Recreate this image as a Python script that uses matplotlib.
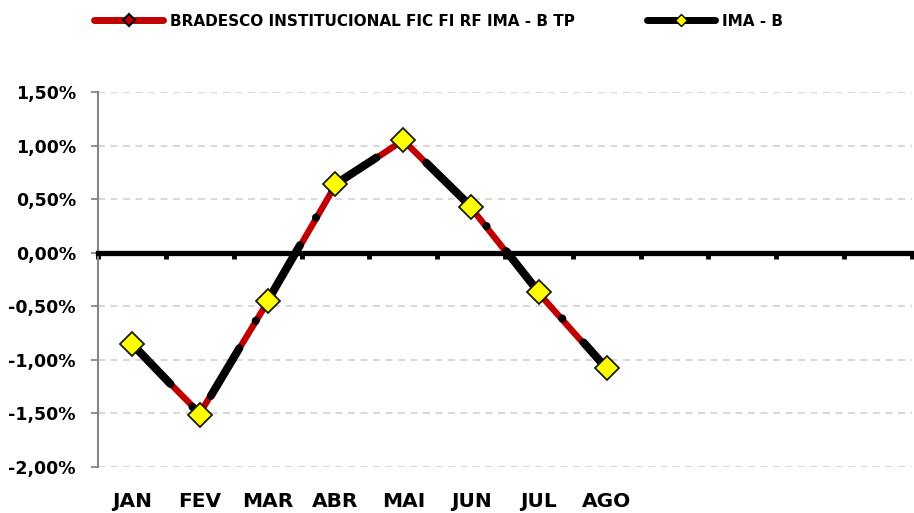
import numpy as np
import matplotlib
matplotlib.use("Agg")
import matplotlib.pyplot as plt
from matplotlib.lines import Line2D
from matplotlib.ticker import FuncFormatter

plt.rcParams['font.family'] = ['DejaVu Sans']
plt.rcParams['font.weight'] = 'bold'
plt.rcParams['lines.scale_dashes'] = False

months = ["JAN", "FEV", "MAR", "ABR", "MAI", "JUN", "JUL", "AGO", "", "", "", ""]
fund_name = "BRADESCO INSTITUCIONAL FIC FI RF IMA - B TP"
bench_name = "IMA - B"
# monthly returns in %
fund = [-0.86, -1.50, -0.46, 0.63, 1.05, 0.42, -0.38, -1.09]
imab = [-0.85, -1.51, -0.45, 0.64, 1.05, 0.43, -0.37, -1.08]
yticks = [-2.0, -1.5, -1.0, -0.5, 0.0, 0.5, 1.0, 1.5]

fig = plt.figure(figsize=(9.14, 5.13), dpi=100)
ax = fig.add_axes([98 / 914, 1 - 467 / 513, 814 / 914, 375 / 513])

x = np.arange(len(fund))
ax.plot(x, fund, color='#c00000', lw=4.6, solid_capstyle='round', zorder=3)
ax.plot(x, imab, color='black', lw=5.8, linestyle=(0, (40, 23, 0.1, 23)),
        dash_capstyle='round', zorder=4)
ax.plot(x, imab, linestyle='none', marker='D', ms=12, mfc='#ffff00',
        mec='#1a1a1a', mew=1.3, zorder=5)

ax.set_xlim(-0.5, len(months) - 0.5)
ax.set_ylim(yticks[0], yticks[-1])
ax.set_yticks(yticks)
ax.yaxis.set_major_formatter(FuncFormatter(lambda v, p: f"{v:.2f}%".replace('.', ',')))
ax.tick_params(axis='y', colors='#868686', length=5, width=1.3, labelsize=12.5,
               labelcolor='black', pad=11)
ax.grid(axis='y', color='#d9d9d9', linestyle=(0, (5, 4)), lw=1.5)
ax.set_axisbelow(True)

for s in ['top', 'right']:
    ax.spines[s].set_visible(False)
ax.spines['left'].set_color('#868686')
ax.spines['left'].set_linewidth(1.5)
ax.spines['bottom'].set_position(('data', 0))
ax.spines['bottom'].set_linewidth(3.8)
ax.spines['bottom'].set_zorder(2.5)
ax.set_xticks(np.arange(len(months) + 1) - 0.5)
ax.set_xticklabels([])
ax.tick_params(axis='x', direction='out', length=4, width=3.5, color='black')

sec = ax.secondary_xaxis('bottom')
sec.set_xticks(np.arange(len(months)))
sec.set_xticklabels(months, fontsize=14.5, fontweight='bold')
sec.tick_params(length=0, pad=18)
sec.spines['bottom'].set_visible(False)

handles = [
    Line2D([], [], color='#c00000', lw=5, marker='D', ms=6, mfc='#c00000',
           mec='black', mew=1.5, solid_capstyle='round'),
    Line2D([], [], color='black', lw=5, marker='D', ms=6, mfc='#ffff00',
           mec='black', mew=1, solid_capstyle='round'),
]
fig.legend(handles, [fund_name, bench_name], loc='center', ncol=2,
           bbox_to_anchor=(0.480, 1 - 21 / 513), frameon=False,
           prop={'size': 11, 'weight': 'bold'}, handlelength=4.5,
           columnspacing=4.7, handletextpad=0.45)

fig.savefig('out.png', dpi=100)
